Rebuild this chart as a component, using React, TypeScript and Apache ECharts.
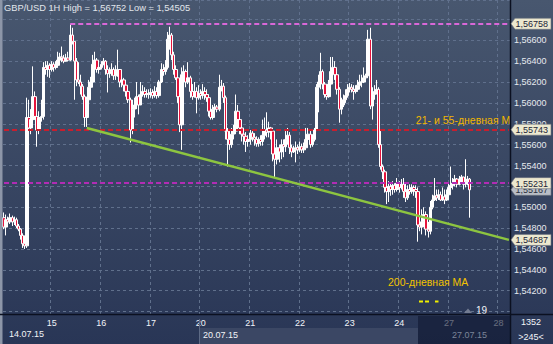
import React, { useEffect, useRef } from 'react';
import * as echarts from 'echarts';

const FONT = '"Liberation Sans", Arial, sans-serif';

const titleText = 'GBP/USD 1H High = 1,56752 Low = 1,54505';
const firstOpen = 1.549;

// [close, high, low] per hourly candle; open = previous close
const jul14 = [
  [1.5481, 1.5495, 1.5479], [1.5488, 1.5493, 1.5473], [1.5486, 1.5491, 1.5482], [1.549, 1.5494, 1.5484],
  [1.5486, 1.5492, 1.5482], [1.5488, 1.5491, 1.5483], [1.5482, 1.549, 1.548], [1.5479, 1.5484, 1.5477],
  [1.5473, 1.548, 1.5469], [1.5465, 1.5475, 1.5461], [1.5463, 1.5473, 1.546], [1.5586, 1.5605, 1.5461],
  [1.5576, 1.5603, 1.5572], [1.5584, 1.5594, 1.557], [1.5606, 1.5635, 1.5582], [1.5587, 1.5611, 1.5584],
  [1.5574, 1.5589, 1.5558], [1.5586, 1.5592, 1.557], [1.5587, 1.5603, 1.5582], [1.5634, 1.5639, 1.5584],
  [1.5632, 1.564, 1.5627], [1.5636, 1.564, 1.5625], [1.5632, 1.5638, 1.5624],
];
const jul15 = [
  [1.5637, 1.564, 1.563], [1.5634, 1.5639, 1.563], [1.5636, 1.564, 1.5632], [1.5641, 1.5649, 1.5634],
  [1.5644, 1.5648, 1.564], [1.5643, 1.5654, 1.5639], [1.564, 1.5646, 1.5638], [1.5643, 1.5647, 1.564],
  [1.5641, 1.5649, 1.564], [1.5665, 1.5675, 1.564], [1.5659, 1.5672, 1.5656], [1.564, 1.5659, 1.5603],
  [1.5622, 1.5643, 1.5616], [1.562, 1.5639, 1.5618], [1.5616, 1.5627, 1.5608], [1.5606, 1.5618, 1.5603],
  [1.5586, 1.5608, 1.5577], [1.5603, 1.5606, 1.5577], [1.5615, 1.5622, 1.5601], [1.562, 1.5625, 1.5611],
  [1.5637, 1.5646, 1.5619], [1.5641, 1.5649, 1.5634], [1.5632, 1.5643, 1.5629], [1.5634, 1.564, 1.5628],
];
const jul16 = [
  [1.5637, 1.564, 1.5632], [1.564, 1.5643, 1.5636], [1.5632, 1.5641, 1.5627], [1.5628, 1.5636, 1.561],
  [1.563, 1.5634, 1.5624], [1.5632, 1.5638, 1.5626], [1.5626, 1.5634, 1.5622], [1.563, 1.5636, 1.5622],
  [1.5632, 1.5651, 1.5625], [1.562, 1.5632, 1.5615], [1.5622, 1.563, 1.5615], [1.5617, 1.5624, 1.5611],
  [1.5611, 1.562, 1.5606], [1.5603, 1.5615, 1.56], [1.5574, 1.5605, 1.5562], [1.5594, 1.5603, 1.557],
  [1.5598, 1.5605, 1.5586], [1.5606, 1.562, 1.5594], [1.5598, 1.5608, 1.5589], [1.5608, 1.562, 1.5598],
  [1.5611, 1.5617, 1.5606], [1.5608, 1.5615, 1.5605], [1.5609, 1.5613, 1.5605], [1.5608, 1.5613, 1.5604],
];
const jul17 = [
  [1.561, 1.5614, 1.5605], [1.5607, 1.5613, 1.5604], [1.5611, 1.5616, 1.5605], [1.5607, 1.5615, 1.5604],
  [1.562, 1.5622, 1.5605], [1.5632, 1.5638, 1.5619], [1.563, 1.5637, 1.5626], [1.5634, 1.5641, 1.5627],
  [1.5661, 1.5668, 1.5632], [1.5665, 1.5673, 1.5651], [1.5646, 1.5667, 1.5641], [1.5632, 1.5649, 1.5627],
  [1.5624, 1.5636, 1.5622], [1.5606, 1.563, 1.56], [1.5579, 1.5603, 1.5572], [1.5627, 1.5634, 1.5555],
  [1.563, 1.5636, 1.5622], [1.562, 1.5632, 1.5615], [1.5624, 1.5639, 1.5618], [1.5611, 1.5626, 1.5605],
  [1.5606, 1.5618, 1.5603], [1.5611, 1.562, 1.5605], [1.5605, 1.5615, 1.559], [1.5609, 1.5617, 1.5603],
];
const jul20 = [
  [1.5607, 1.5613, 1.5603], [1.5611, 1.5618, 1.5604], [1.5608, 1.5615, 1.5603], [1.5605, 1.5613, 1.5601],
  [1.5592, 1.5608, 1.5587], [1.5586, 1.5596, 1.5584], [1.5594, 1.5598, 1.5584], [1.5596, 1.5599, 1.559],
  [1.5594, 1.5598, 1.5591], [1.5615, 1.5627, 1.5592], [1.5616, 1.5622, 1.5611], [1.5605, 1.5619, 1.56],
  [1.5573, 1.5607, 1.5565], [1.5565, 1.5576, 1.5539], [1.556, 1.5573, 1.5555], [1.557, 1.5576, 1.5557],
  [1.5573, 1.5579, 1.5565], [1.5592, 1.5608, 1.557], [1.5584, 1.5598, 1.5579], [1.5576, 1.5589, 1.557],
  [1.557, 1.5579, 1.5563], [1.5568, 1.5574, 1.556], [1.5563, 1.5572, 1.5553], [1.5565, 1.5569, 1.5558],
];
const jul21 = [
  [1.5571, 1.5574, 1.556], [1.5567, 1.5573, 1.5563], [1.5565, 1.5571, 1.5559], [1.5561, 1.5568, 1.5558],
  [1.5565, 1.5567, 1.5558], [1.5563, 1.5569, 1.5559], [1.5569, 1.5584, 1.5559], [1.5574, 1.5586, 1.5565],
  [1.5572, 1.5591, 1.5567], [1.5576, 1.5582, 1.5567], [1.5573, 1.5577, 1.5565], [1.5551, 1.5576, 1.5544],
  [1.5546, 1.5555, 1.5529], [1.5557, 1.5565, 1.5541], [1.5553, 1.556, 1.5543], [1.556, 1.5565, 1.5546],
  [1.5558, 1.5565, 1.5548], [1.5565, 1.5573, 1.5553], [1.5569, 1.5576, 1.556], [1.5557, 1.5572, 1.5551],
  [1.5553, 1.556, 1.5548], [1.5555, 1.5559, 1.5552], [1.5557, 1.5563, 1.5543], [1.5555, 1.556, 1.5551],
];
const jul22 = [
  [1.5558, 1.5563, 1.5553], [1.5555, 1.5561, 1.5552], [1.5557, 1.5562, 1.5552], [1.5565, 1.5576, 1.5555],
  [1.557, 1.5576, 1.5563], [1.556, 1.5573, 1.5557], [1.5565, 1.557, 1.5558], [1.5574, 1.5576, 1.5563],
  [1.5615, 1.5618, 1.5573], [1.562, 1.5627, 1.5591], [1.563, 1.5648, 1.5613], [1.5618, 1.5632, 1.5613],
  [1.5608, 1.562, 1.5605], [1.5606, 1.5615, 1.5603], [1.5618, 1.5622, 1.5605], [1.563, 1.5644, 1.5616],
  [1.5634, 1.5644, 1.5627], [1.5627, 1.564, 1.5622], [1.5613, 1.563, 1.5608], [1.5594, 1.5615, 1.5581],
  [1.5598, 1.5605, 1.5589], [1.5603, 1.5608, 1.5596], [1.5607, 1.5613, 1.56], [1.5613, 1.5618, 1.5605],
];
const jul23 = [
  [1.5615, 1.5619, 1.561], [1.5613, 1.5618, 1.561], [1.5611, 1.5617, 1.5603], [1.5613, 1.5617, 1.5609],
  [1.5617, 1.5622, 1.5611], [1.562, 1.5627, 1.5615], [1.562, 1.5627, 1.5615], [1.5624, 1.5634, 1.5619],
  [1.5626, 1.5628, 1.5622], [1.5661, 1.567, 1.5624], [1.5597, 1.5672, 1.5594], [1.5608, 1.5615, 1.5584],
  [1.5611, 1.5617, 1.5603], [1.5613, 1.5622, 1.5608], [1.556, 1.5615, 1.5557], [1.5539, 1.5573, 1.5536],
  [1.5534, 1.5541, 1.5527], [1.5519, 1.5536, 1.5514], [1.5515, 1.5527, 1.5503], [1.552, 1.5525, 1.5505],
  [1.5517, 1.5524, 1.5511], [1.5521, 1.5525, 1.5512], [1.5517, 1.5523, 1.5514], [1.5523, 1.5528, 1.5515],
];
const jul24 = [
  [1.5519, 1.5525, 1.5514], [1.5522, 1.5527, 1.5517], [1.5515, 1.5528, 1.5509], [1.5509, 1.5524, 1.5505],
  [1.5517, 1.5521, 1.5507], [1.5515, 1.5522, 1.5512], [1.5519, 1.5522, 1.5513], [1.5517, 1.5521, 1.5511],
  [1.5515, 1.5521, 1.5509], [1.5483, 1.5519, 1.5467], [1.5481, 1.5493, 1.5477], [1.5486, 1.5498, 1.5474],
  [1.5493, 1.55, 1.5483], [1.5479, 1.5496, 1.5473], [1.5477, 1.5486, 1.5471], [1.55, 1.5506, 1.5474],
  [1.5507, 1.5512, 1.5498], [1.5511, 1.5528, 1.5506], [1.5509, 1.5517, 1.5506], [1.5512, 1.5517, 1.5507],
  [1.5507, 1.5515, 1.5506], [1.551, 1.5519, 1.5506], [1.5507, 1.5517, 1.5503], [1.5512, 1.5517, 1.5506],
];
const jul27 = [
  [1.5519, 1.5524, 1.5509], [1.5521, 1.5539, 1.5515], [1.5523, 1.5528, 1.5517], [1.5527, 1.5531, 1.552],
  [1.5522, 1.5528, 1.5519], [1.5527, 1.553, 1.5521], [1.5529, 1.5531, 1.5523], [1.5522, 1.5529, 1.5517],
  [1.5525, 1.5546, 1.5519], [1.5527, 1.553, 1.5521], [1.55167, 1.5528, 1.549],
];

const dayNames = ['14', '15', '16', '17', '20', '21', '22', '23', '24', '27', '28'];
const daySlots = [23, 24, 24, 24, 24, 24, 24, 24, 24, 24, 6];
const dayCandles = [jul14, jul15, jul16, jul17, jul20, jul21, jul22, jul23, jul24, jul27, []];
const weekLabels = ['14.07.15', '20.07.15', '27.07.15'];

const highLevel = 1.56758;
const maLevel = 1.55743;
const midLevel = 1.55231;
const lastPrice = 1.55167;
const trendStart = 1.5576;
const trendEnd = 1.54687;
const trendStartSlot = 40;
const highSlot = 32;
const tagLevels = [highLevel, maLevel, midLevel, lastPrice, trendEnd];

const maText = '21- и 55-дневная MA';
const maTextAnchor = { slot: 199, price: 1.5584 };
const ma200Text = '200-дневная MA';
const barsText = '>245<';
const timeText = '1352';
const countText = '19';

export default function App() {
  const ref = useRef<HTMLDivElement>(null);
  useEffect(() => {
    document.body.style.margin = '0';
    const el = ref.current;
    if (!el) return;
    const chart = echarts.init(el, null, { renderer: 'svg' });

    const categories: string[] = [];
    const dayStart: Record<number, string> = {};
    dayNames.forEach((d, di) => {
      dayStart[categories.length] = d;
      const first = di === 0 ? 1 : 0;
      for (let h = 0; h < daySlots[di]; h++) {
        categories.push(`${d}.07 ${String(h + first).padStart(2, '0')}:00`);
      }
    });
    const candles: number[][] = [];
    let prev = firstOpen;
    dayCandles.forEach((day) =>
      day.forEach(([c, h, l]) => {
        const o = prev;
        candles.push([o, c, Math.min(l, o, c), Math.max(h, o, c)]);
        prev = c;
      })
    );
    const isDayStart = (i: number) => i > 0 && dayStart[i] !== undefined;
    const firstSlot = categories[0];
    const lastSlot = categories[categories.length - 1];
    const gridColor = '#60708c';
    const hline = (v: number, color: string, from = firstSlot) => [
      { coord: [from, v], lineStyle: { color, type: [5, 3], width: 2 } },
      { coord: [lastSlot, v] },
    ];

    chart.setOption({
      animation: false,
      backgroundColor: {
        type: 'linear', x: 0, y: 0, x2: 0, y2: 1,
        colorStops: [
          { offset: 0, color: '#48576f' },
          { offset: 1, color: '#293656' },
        ],
      },
      grid: { left: 3, right: 43, top: 0, bottom: 30 },
      xAxis: {
        type: 'category',
        data: categories,
        boundaryGap: true,
        axisLine: { show: false },
        axisTick: { show: false },
        axisLabel: {
          interval: (i: number) => isDayStart(i),
          formatter: (_v: string, i: number) => dayStart[i] ?? '',
          color: '#f2f4f8',
          fontSize: 9,
          fontFamily: FONT,
          margin: 4,
        },
        splitLine: {
          show: true,
          interval: (i: number) => isDayStart(i),
          lineStyle: { color: gridColor, type: [3, 3], width: 1 },
        },
      },
      yAxis: {
        type: 'value',
        position: 'right',
        min: 1.53977,
        max: 1.56986,
        splitNumber: 14,
        minInterval: 0.002,
        maxInterval: 0.002,
        axisLine: { show: false },
        axisTick: { show: false },
        axisLabel: {
          showMinLabel: false,
          showMaxLabel: false,
          formatter: (v: number) => {
            if (v < 1.541) return '';
            if (tagLevels.some((t) => Math.abs(t - v) < 0.0005)) return '';
            return v.toFixed(5).replace('.', ',');
          },
          color: '#e6e9ef',
          fontSize: 9,
          fontFamily: FONT,
          margin: 4,
        },
        splitLine: { lineStyle: { color: gridColor, type: [3, 3], width: 1 } },
      },
      series: [
        {
          type: 'candlestick',
          data: candles,
          barWidth: 3,
          itemStyle: {
            color: '#ffffff',
            color0: '#e5143c',
            borderColor: '#ffffff',
            borderColor0: '#ffffff',
            borderWidth: 1,
          },
          markLine: {
            silent: true,
            symbol: 'none',
            label: { show: false },
            data: [
              hline(highLevel, '#d968d8', categories[highSlot]),
              hline(maLevel, '#c81e2e'),
              hline(midLevel, '#b22cb4'),
              [
                { coord: [categories[trendStartSlot], trendStart], lineStyle: { color: '#8dc540', type: 'solid', width: 2.5 } },
                { coord: [lastSlot, trendEnd] },
              ],
            ],
          },
        },
        {
          type: 'custom',
          clip: true,
          silent: true,
          z: 5,
          data: [[maTextAnchor.slot, maTextAnchor.price]],
          renderItem: (_p: any, api: any) => {
            const pt = api.coord([api.value(0), api.value(1)]);
            return {
              type: 'text',
              x: pt[0],
              y: pt[1],
              style: {
                text: maText,
                fill: '#f2b600',
                font: `10.5px ${FONT}`,
                align: 'left',
                verticalAlign: 'middle',
              },
            };
          },
        },
      ],
    });

    const yOf = (v: number) => chart.convertToPixel({ yAxisIndex: 0 }, v) as number;
    const txt = (text: string, x: number, y: number, fill: string, size: number, align = 'left', z = 100) => ({
      type: 'text',
      z,
      style: {
        text, x, y, fill,
        font: `${size}px ${FONT}`,
        align, verticalAlign: 'middle',
        textAlign: align, textVerticalAlign: 'middle',
      },
    });
    const tag = (v: number, fill: string, color: string, z: number) => {
      const y = yOf(v);
      return [
        {
          type: 'polygon', z,
          shape: { points: [[511, y], [515, y - 5.5], [551, y - 5.5], [551, y + 5.5], [515, y + 5.5]] },
          style: { fill, stroke: '#6f7482', lineWidth: 0.6 },
        },
        txt(v.toFixed(5).replace('.', ','), 515.5, y + 0.5, color, 9, 'left', z),
      ];
    };

    const elements: any[] = [
      { type: 'rect', z: 50, shape: { x: 0, y: 0, width: 2.5, height: 344 }, style: { fill: '#8d96a8' } },
      { type: 'rect', z: 1, shape: { x: 200, y: 328, width: 218, height: 16 }, style: { fill: '#3b4764' } },
      { type: 'line', z: 2, shape: { x1: 199.5, y1: 319, x2: 199.5, y2: 344 }, style: { stroke: '#5d6a85', lineWidth: 1 } },
      { type: 'rect', z: 60, shape: { x: 418, y: 316, width: 92, height: 28 }, style: { fill: 'rgba(16,24,50,0.62)' } },
      { type: 'line', z: 70, shape: { x1: 510.5, y1: 0, x2: 510.5, y2: 344 }, style: { stroke: '#0b1020', lineWidth: 1.5 } },
      { type: 'line', z: 70, shape: { x1: 0, y1: 314.5, x2: 553, y2: 314.5 }, style: { stroke: '#0b1020', lineWidth: 1.5 } },
      txt(titleText, 4, 8, '#e2e6ec', 9.3),
      txt(weekLabels[0], 9, 334, '#f2f4f8', 9),
      txt(weekLabels[1], 203, 335, '#f2f4f8', 9),
      txt(weekLabels[2], 452, 335, '#7c8598', 9, 'left', 80),
      txt(ma200Text, 388, 282, '#f2c200', 10.5, 'left', 40),
      { type: 'rect', z: 40, shape: { x: 419, y: 300.5, width: 4, height: 2 }, style: { fill: '#eeee00' } },
      { type: 'rect', z: 40, shape: { x: 425, y: 300.5, width: 4, height: 2 }, style: { fill: '#eeee00' } },
      { type: 'rect', z: 40, shape: { x: 435, y: 300.5, width: 3.5, height: 2 }, style: { fill: '#eeee00' } },
      { type: 'polygon', z: 40, shape: { points: [[464, 313], [468, 308.5], [472, 313]] }, style: { fill: '#737c92' } },
      txt(countText, 476, 310, '#f2f4f8', 10, 'left', 40),
      txt(timeText, 531, 322, '#f2f4f8', 9, 'center'),
      txt(barsText, 531, 336.5, '#f2f4f8', 9, 'center'),
      ...tag(lastPrice, '#b9bec6', '#2a3040', 100),
      ...tag(highLevel, '#ece8cf', '#1d2438', 101),
      ...tag(maLevel, '#ece8cf', '#1d2438', 101),
      ...tag(midLevel, '#ece8cf', '#1d2438', 101),
      ...tag(trendEnd, '#ece8cf', '#1d2438', 101),
    ];
    chart.setOption({ graphic: { elements } });

    return () => chart.dispose();
  }, []);
  return <div ref={ref} style={{ width: 553, height: 344 }} />;
}
